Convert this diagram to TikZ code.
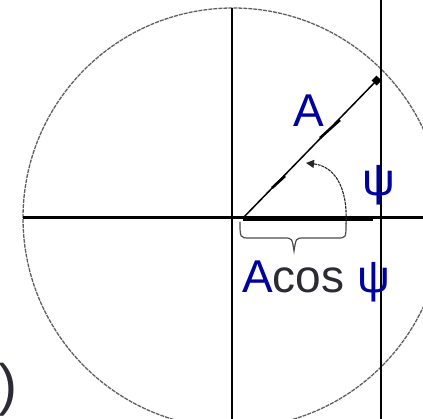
\documentclass[tikz,border=0pt]{standalone}
\usepackage{fontspec}
\setmainfont{Liberation Sans}
\usetikzlibrary{arrows.meta}
\definecolor{navyblue}{RGB}{0,0,160}
\definecolor{darktext}{RGB}{43,43,51}
\definecolor{circgray}{RGB}{95,95,95}
\begin{document}
\begin{tikzpicture}[x=1pt,y=-1pt,
  circ/.style={circgray,line width=1.3pt,dash pattern=on 4pt off 1pt},
  axis/.style={black,line width=3pt},
  thinline/.style={black,line width=1.4pt},
  vec/.style={black,line width=1.5pt},
  vecmark/.style={black,line width=2.6pt},
  bracestyle/.style={circgray!80!black,line width=1.2pt},
  arcstyle/.style={black!85,line width=1.1pt,dash pattern=on 3pt off 0.8pt},
  biglbl/.style={font=\fontsize{46}{46}\selectfont,inner sep=0pt,text=navyblue},
  darklbl/.style={font=\fontsize{46}{46}\selectfont,inner sep=0pt,text=darktext}]
\useasboundingbox (0,0) rectangle (423,419);
\clip (0,0) rectangle (423,419);
\fill[white] (0,0) rectangle (423,419);
% key points
\coordinate (C) at (233,218);
\coordinate (O) at (243,218);
\coordinate (T) at (379,78);
\coordinate (axL) at (23,218);
\coordinate (axR) at (423,218);
\coordinate (vT) at (232,8);
\coordinate (vB) at (232,419);
\coordinate (wT) at (381,0);
\coordinate (wB) at (381,419);
\coordinate (pE) at (373,219.5);
% circle
\draw[circ] (C) circle (210);
% axes
\draw[axis] (axL) -- (axR);
\draw[thinline] (vT) -- (vB);
\draw[thinline] (wT) -- (wB);
% projection
\draw[black,line width=3.5pt] (243,219.5) -- (pE);
% vector
\draw[vec,-{Square[length=7pt,width=7pt]}] (O) -- (T);
\draw[vecmark] (272,188) -- (285,176);
\draw[vecmark] (320,138) -- (340,120);
% brace and angle arc
\draw[bracestyle] (240,222) .. controls (240,238) .. (250,238) -- (284,238)
  .. controls (292,238) .. (294,251) .. controls (296,238) .. (304,238)
  -- (337,238) .. controls (346,238) .. (346,224);
\draw[arcstyle,-{Triangle[length=8pt,width=8pt]}] (346,224) .. controls (348,185) and (333,166) .. (306,163);
% labels
\node[biglbl,anchor=base west] (lblA) at (293,127) {A};
\node[biglbl,anchor=base west] (lblPsi) at (362,196) {ψ};
\node[anchor=base west,inner sep=0pt] (lblAcos) at (242,293) {\fontsize{46}{46}\selectfont\textcolor{navyblue}{A}\textcolor{darktext}{cos} \textcolor{navyblue}{ψ}};
\node[anchor=base west,inner sep=0pt,text=darktext] (paren) at (-2,405) {\fontsize{57}{57}\selectfont )};
\end{tikzpicture}
\end{document}
